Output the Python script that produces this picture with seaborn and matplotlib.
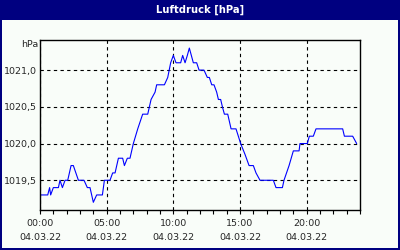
import matplotlib
matplotlib.use("Agg")
import matplotlib.pyplot as plt
from matplotlib.patches import Rectangle
from matplotlib.ticker import MultipleLocator
import seaborn as sns
import pandas as pd

title = "Luftdruck [hPa]"
unit = "hPa"
date_label = "04.03.22"

hours = [0.0, 0.58, 0.72, 0.8, 1.0, 1.38, 1.5, 1.68, 1.88, 2.08, 2.33, 2.5, 2.88,
         3.3, 3.55, 3.75, 4.0, 4.25, 4.68, 4.83, 5.25, 5.45, 5.63, 5.88, 6.2, 6.33,
         6.55, 6.75, 7.0, 7.33, 7.7, 8.08, 8.33, 8.63, 8.75, 9.33, 9.58, 9.8, 10.0,
         10.2, 10.55, 10.7, 10.88, 11.05, 11.2, 11.5, 11.75, 11.93,
         12.3, 12.55, 12.7, 12.88, 13.05, 13.25, 13.38, 13.55, 13.68, 13.83, 14.08,
         14.33, 14.7, 15.05, 15.38, 15.68, 16.0, 16.2, 16.5, 17.5, 17.7, 18.18, 18.3,
         18.68, 19.0, 19.43, 19.5, 20.05, 20.2, 20.5, 20.7, 22.7, 22.83, 23.45, 23.75]
pressure = [1019.3, 1019.3, 1019.4, 1019.3, 1019.4, 1019.4, 1019.5, 1019.4, 1019.5, 1019.5,
            1019.7, 1019.7, 1019.5, 1019.5, 1019.4, 1019.4, 1019.2, 1019.3, 1019.3, 1019.5,
            1019.5, 1019.6, 1019.6, 1019.8, 1019.8, 1019.7, 1019.8, 1019.8, 1020.0, 1020.2,
            1020.4, 1020.4, 1020.6, 1020.7, 1020.8, 1020.8, 1020.9, 1021.1, 1021.2, 1021.1,
            1021.1, 1021.2, 1021.1, 1021.2, 1021.3, 1021.1, 1021.1, 1021.0,
            1021.0, 1020.9, 1020.9, 1020.8, 1020.8, 1020.7, 1020.6, 1020.6, 1020.5, 1020.4,
            1020.4, 1020.2, 1020.2, 1020.0, 1019.85, 1019.7, 1019.7, 1019.6, 1019.5, 1019.5,
            1019.4, 1019.4, 1019.5, 1019.7, 1019.9, 1019.9, 1020.0, 1020.0, 1020.1, 1020.1,
            1020.2, 1020.2, 1020.1, 1020.1, 1020.0]
xtick_hours = [0, 5, 10, 15, 20]
ytick_values = [1019.5, 1020.0, 1020.5, 1021.0]

df = pd.DataFrame({"h": hours, "p": pressure})

sns.set_style("white")
plt.rcParams["font.family"] = ["DejaVu Sans"]

bg = "#f9fdf9"
navy = "#000080"
fs = 6.8
fig = plt.figure(figsize=(4, 2.5), dpi=100, facecolor=bg)
ax = fig.add_axes([0.1, 0.16, 0.8, 0.68])
ax.set_facecolor(bg)

sns.lineplot(data=df, x="h", y="p", ax=ax, color="#0000ff", linewidth=0.8)

ax.set_xlim(0, 24)
ax.set_ylim(1019.095, 1021.41)
ax.set_xticks(xtick_hours)
ax.xaxis.set_minor_locator(MultipleLocator(1))
ax.set_xticklabels([f"{h:02d}:00\n{date_label}" for h in xtick_hours],
                   fontsize=fs, linespacing=1.75)
ax.set_yticks(ytick_values)
ax.set_yticklabels([f"{v:.1f}".replace(".", ",") for v in ytick_values], fontsize=fs)
ax.set_xlabel("")
ax.set_ylabel("")

ax.tick_params(axis="x", which="both", direction="out", length=3, width=0.8,
               color="black", pad=3.5, bottom=True)
ax.tick_params(axis="y", which="both", length=0, pad=2, left=True)

ax.grid(True, which="major", color="black", linestyle=(0, (3, 3)), linewidth=0.8)
for s in ax.spines.values():
    s.set_color("black")
    s.set_linewidth(1.0)

fig.text(38 / 400, 1 - 45 / 250, unit, ha="right", va="center", fontsize=fs)

# title bar and borders
fig.patches.append(Rectangle((0, 1 - 20 / 250), 1, 20 / 250, transform=fig.transFigure,
                             facecolor=navy, edgecolor="none", zorder=0))
fig.patches.append(Rectangle((0, 0), 1.5 / 400, 1, transform=fig.transFigure,
                             facecolor=navy, edgecolor="none", zorder=0))
fig.patches.append(Rectangle((1 - 2 / 400, 0), 2 / 400, 1, transform=fig.transFigure,
                             facecolor=navy, edgecolor="none", zorder=0))
fig.patches.append(Rectangle((0, 0), 1, 2 / 250, transform=fig.transFigure,
                             facecolor=navy, edgecolor="none", zorder=0))
fig.text(0.5, 1 - 10 / 250, title, ha="center", va="center", color="white",
         fontsize=7.2, fontweight="bold")

fig.savefig("out.png", dpi=100, facecolor=bg)
